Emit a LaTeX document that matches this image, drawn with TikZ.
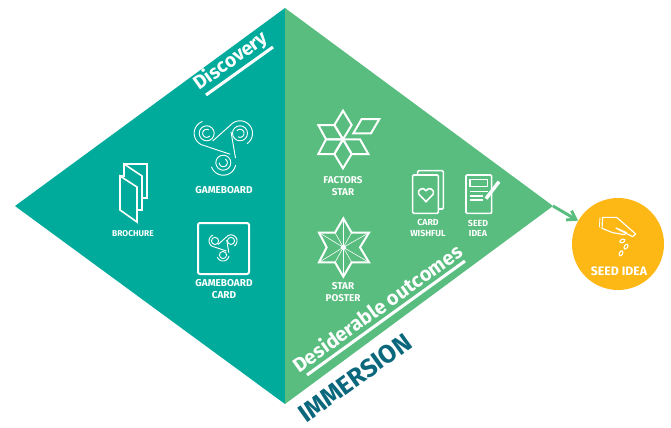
\documentclass[tikz,border=0pt]{standalone}
\usepackage{fontspec}
\setmainfont{Fira Sans}
\usetikzlibrary{arrows.meta}
\definecolor{tealc}{HTML}{00AB9C}
\definecolor{greenc}{HTML}{58BD7E}
\definecolor{orangec}{HTML}{FDB815}
\definecolor{darkc}{HTML}{0B687C}
\tikzset{
  icon/.style={draw=white,line width=1.5pt,line join=miter},
  thinicon/.style={draw=white,line width=0.8pt},
  lab/.style={text=white,font=\bfseries\fontsize{#1}{#1}\selectfont,align=center,inner sep=0pt},
  lab/.default=7,
  under/.style={draw=white,line width=2.3pt},
  title/.style={text=white,font=\bfseries\fontsize{#1}{#1}\selectfont,inner sep=0pt,rotate=35.6}
}
% arc by visual angles: centre x, centre y, radius, from, to
\newcommand{\vis}[5]{\draw plot[domain=#4:#5,samples=40,smooth,variable=\t] ({#1+#3*cos(\t)},{#2-#3*sin(\t)});}
\newcommand{\gbcore}{%
  \foreach \x/\y in {-16.6/-12.7,16.7/-12.7,0/16.7}{\draw (\x,\y) circle (7.5);}
  \vis{-16.6}{-12.7}{12.5}{110}{253}
  \vis{16.7}{-12.7}{12.5}{-56}{135}
  \vis{0}{16.7}{12.5}{199}{349}
  \draw (-20.2,-0.8) -- (7,8.3);
  \draw (-10.6,-5) -- (7.9,-21.5);
  \draw (7.7,-14.3) -- (12.2,12);
}
\begin{document}
\begin{tikzpicture}[x=0.75pt,y=-0.75pt]
\useasboundingbox (0,0) rectangle (671,428);
\fill[white] (0,0) rectangle (671,428);
\coordinate (L) at (15,206); \coordinate (T) at (285,8);
\coordinate (B) at (285,404); \coordinate (R) at (553,206);
\fill[tealc] (L) -- (T) -- (B) -- cycle;
\fill[greenc] (T) -- (R) -- (B) -- cycle;
% arrow to seed circle
\node[circle,fill=orangec,minimum size=69pt,inner sep=0pt] (seed) at (618,244) {};
\draw[greenc,line width=2.2pt,-{Straight Barb[length=6pt,width=8pt]}] (R) -- (seed);
% titles
\node[title=14.5] (disc) at (231,61) {Discovery};
\draw[under] (206,95) -- (273,47);
\node[title=15] (des) at (377,308) {Desiderable outcomes};
\draw[under] (307,375) -- (465,261);
\node[title=19,text=darkc] (imm) at (355,378) {IMMERSION};
% gameboard
\begin{scope}[shift={(223.3,146)},white,line width=0.7pt]
\gbcore
\vis{-16.6}{-12.7}{4}{60}{320}
\vis{16.7}{-12.7}{4}{-120}{140}
\vis{0}{16.7}{4}{180}{420}
\end{scope}
\node[lab=7.5] (gb) at (224,190) {GAMEBOARD};
% card
\draw[icon,rounded corners=1.5pt] (198,223) rectangle (249,274);
\begin{scope}[shift={(223,247)},scale=0.48,white,line width=0.7pt]
\gbcore
\end{scope}
\node[lab=7.5] (gbc) at (224,289) {GAMEBOARD\\[1.5pt]CARD};
% brochure
\draw[icon,line width=1.2pt] (120,176) -- (120,210) -- (137,222) -- (137,187) -- cycle;
\draw[icon,line width=1.2pt] (120,176) -- (124,176) -- (124,164) -- (142,176) -- (142,210) -- (137,210);
\draw[icon,line width=1.2pt] (124,164) -- (147,164) -- (147,198) -- (142,198);
\node[lab=6.3] (bro) at (133,234) {BROCHURE};
% factors star
\begin{scope}[shift={(300,100)},x=0.25pt,y=-0.25pt]
\draw[icon] (129,32) -- (155,75) -- (129,118) -- (103,75) -- cycle;
\draw[icon] (55,75) -- (103,75) -- (129,118) -- (78,118) -- cycle;
\draw[icon] (78,118) -- (129,118) -- (103,162) -- (55,162) -- cycle;
\draw[icon] (129,118) -- (155,162) -- (129,205) -- (103,162) -- cycle;
\draw[icon] (129,118) -- (180,118) -- (205,162) -- (155,162) -- cycle;
\draw[icon] (185,57) -- (238,57) -- (213,100) -- (160,100) -- cycle;
% star poster
\draw[icon] (130,355) -- (155,398) -- (207,398) -- (180,442) -- (207,487) -- (155,487) -- (130,530) -- (105,487) -- (57,487) -- (80,442) -- (57,398) -- (105,398) -- cycle;
\foreach \a/\b in {130/355,207/398,207/487,130/530,57/487,57/398,155/398,155/487,105/487,105/398}{
  \draw[thinicon,line width=0.45pt] (130,442) -- (\a,\b);
}
\fill[white] (130,442) circle (8);
\end{scope}
\node[lab=7.4] (fs) at (343,186) {FACTORS\\[1.5pt]STAR};
\node[lab=7.4] (sp) at (343,292) {STAR\\[1.5pt]POSTER};
% card wishful
\begin{scope}[shift={(400,160)},x=0.25pt,y=-0.25pt]
\draw[icon,rounded corners=0.8pt,line width=1.2pt] (38,45) rectangle (115,160);
\draw[icon,rounded corners=0.8pt,line width=1.2pt] (53,45) -- (53,32) -- (130,32) -- (130,147) -- (115,147);
\draw[icon,line width=1.2pt] (78,125) -- (56,102) .. controls (50,90) and (70,78) .. (78,92) .. controls (86,78) and (106,90) .. (100,102) -- cycle;
% seed idea
\draw[icon,rounded corners=0.8pt,line width=1.2pt] (198,45) rectangle (275,160);
\draw[thinicon] (210,58) rectangle (263,80);
\draw[icon,line width=0.9pt] (210,95) -- (263,95) (210,108) -- (250,108) (210,120) -- (250,120);
\draw[white,line width=2.6pt] (258,116) -- (297,65);
\end{scope}
\node[lab=6.6] (cw) at (428,228) {CARD\\[1pt]WISHFUL};
\node[lab=6.6] (si) at (478,228) {SEED\\[1pt]IDEA};
% hand
\begin{scope}[shift={(590,210)},x=0.25pt,y=-0.25pt]
\draw[thinicon,line width=0.6pt] (30,22) -- (28,52);
\draw[icon,line width=0.85pt,line join=round] (38,22) -- (80,22) -- (137,72) -- (128,80) -- (88,60) -- (78,54) -- (110,68) -- (103,74) -- (68,68) -- (36,55) -- cycle;
\foreach \x/\y/\r in {97/93/25,108/110/60,93/130/65}{
  \draw[thinicon,rotate around={\r:(\x,\y)}] (\x,\y) ellipse (8 and 5);
}
\end{scope}
\node[lab=9.2] (sd) at (619,271) {SEED IDEA};
\end{tikzpicture}
\end{document}
